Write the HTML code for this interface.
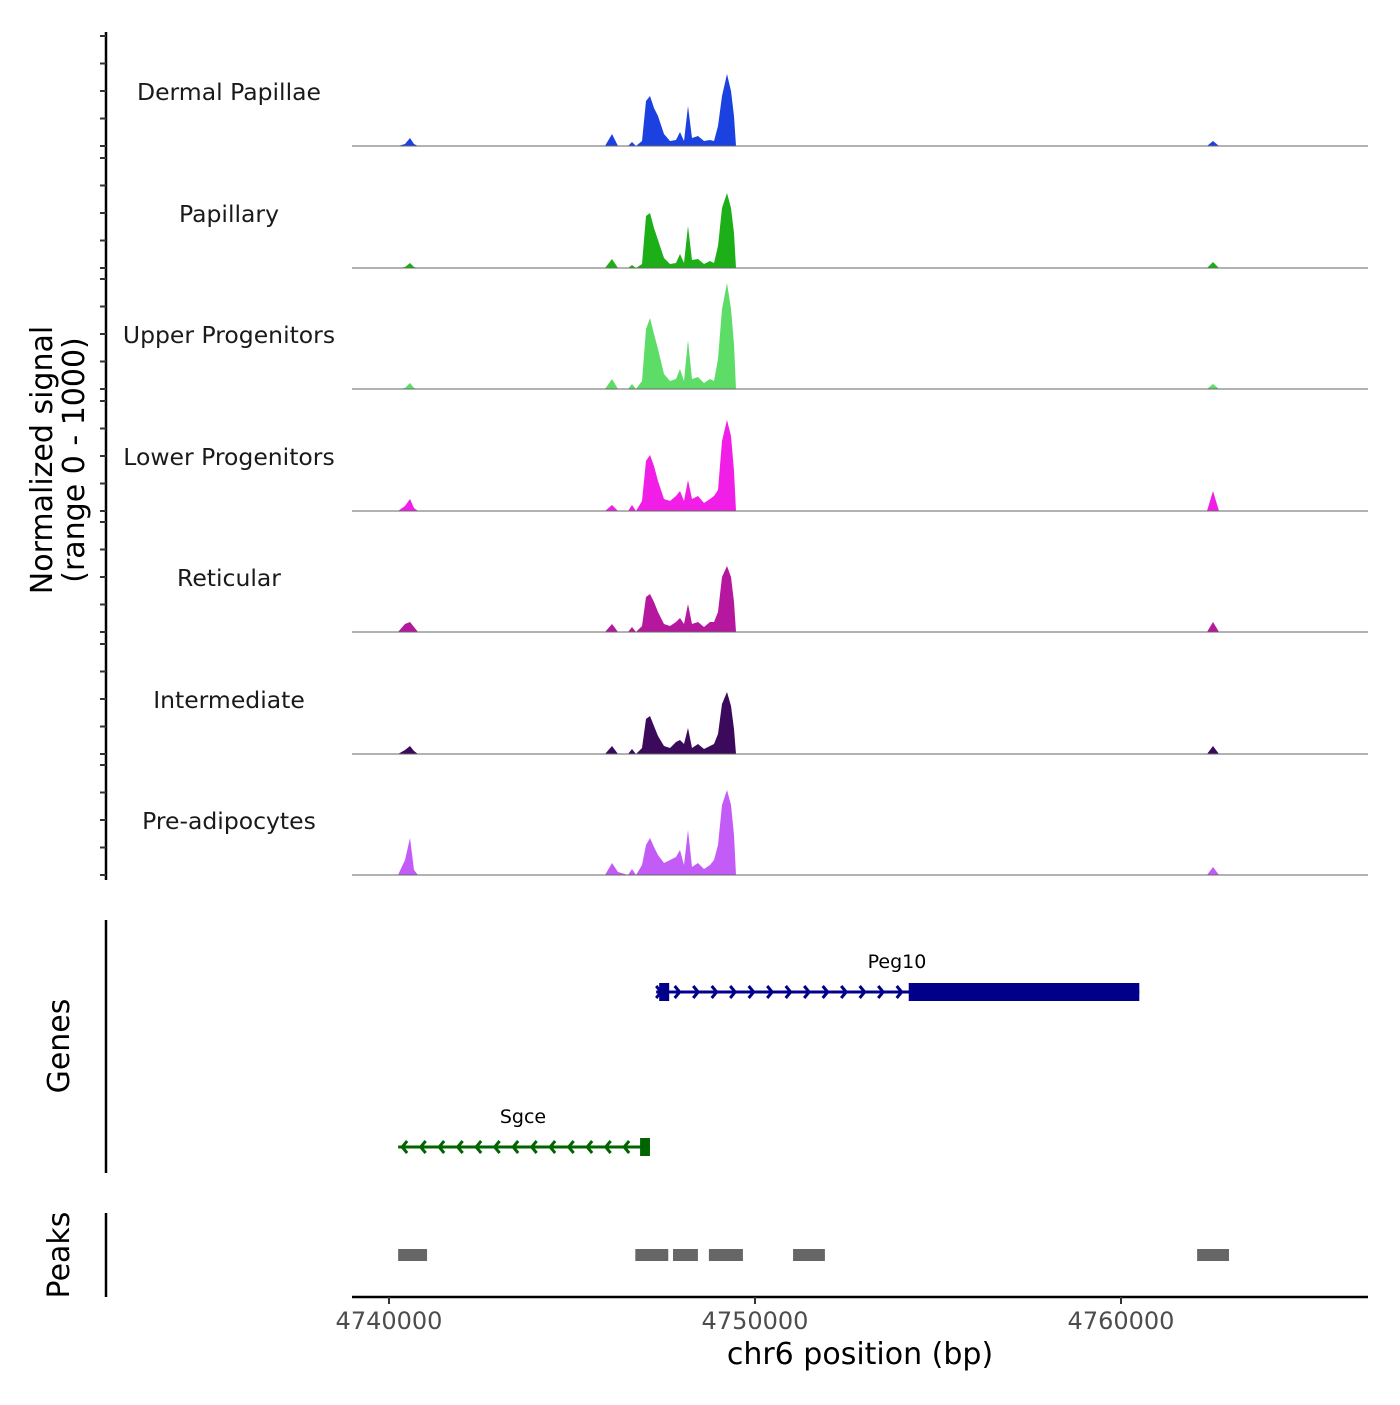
<!DOCTYPE html>
<html><head><meta charset="utf-8"><style>
body{margin:0;background:#fff}
svg{font-family:"DejaVu Sans","Liberation Sans",sans-serif}
</style></head><body>
<svg id="c" width="1400" height="1400" viewBox="0 0 1400 1400"></svg>
<script>
const trackNames=["Dermal Papillae","Papillary","Upper Progenitors","Lower Progenitors","Reticular","Intermediate","Pre-adipocytes"];
const trackColors=["#1b42e0","#1caf17","#5edc68","#f01ee6","#b5189f","#3b0a5c","#c35cf6"];
const positions=[4740246,4740437,4740574,4740683,4740792,4745902,4746093,4746257,4746530,4746639,4746749,4746913,4747022,4747131,4747240,4747350,4747514,4747678,4747842,4747951,4748060,4748169,4748279,4748443,4748607,4748770,4748880,4748989,4749098,4749235,4749344,4749426,4749481,4762350,4762514,4762678];
const sigDP=[0,2,8,2,0,0,12,0,0,4,0,5,45,50,38,30,12,5,6,14,5,40,8,10,5,6,5,20,50,72,55,30,0,0,5,0];
const sigPap=[0,1,5,1,0,0,9,0,0,3,0,4,52,55,40,28,10,4,5,14,5,42,8,9,4,7,5,22,60,75,60,35,0,0,6,0];
const sigUp=[0,1,6,1,0,0,10,0,0,5,0,8,60,71,55,40,15,8,10,20,8,49,10,12,6,10,8,30,80,106,80,45,0,0,5,0];
const sigLow=[0,5,12,3,0,0,6,0,0,6,0,10,50,56,45,30,12,10,15,20,10,31,12,15,8,12,15,21,70,91,75,40,0,0,20,0];
const sigRet=[0,8,10,5,0,0,8,0,0,5,0,6,35,38,30,20,8,6,10,14,8,28,8,10,5,10,10,20,55,66,55,30,0,0,10,0];
const sigInt=[0,4,8,3,0,0,8,0,0,5,0,6,35,38,28,18,8,6,12,14,10,26,6,10,5,8,10,20,50,62,48,25,0,0,8,0];
const sigPre=[0,15,37,5,0,0,12,3,0,6,0,10,30,37,28,20,12,15,18,25,10,45,8,12,6,10,15,30,70,85,70,40,0,0,8,0];
const signals=[sigDP,sigPap,sigUp,sigLow,sigRet,sigInt,sigPre];
const peakStarts=[4740250,4746730,4747760,4748740,4751040,4762080];
const peakEnds=[4741040,4747630,4748440,4749670,4751910,4762950];
const xTicks=[4740000,4750000,4760000];
const xTickLabels=["4740000","4750000","4760000"];
const genes=[{name:"Peg10",start:4747300,end:4760500,cdsStart:4754200,strand:1,y:992,color:"#00008b"},
 {name:"Sgce",start:4740250,end:4747130,cdsStart:4746860,strand:-1,y:1147,color:"#006400"}];

const svg=document.getElementById('c');const NS="http://www.w3.org/2000/svg";
function mk(t,a,p){const e=document.createElementNS(NS,t);for(const k in a)e.setAttribute(k,a[k]);(p||svg).appendChild(e);return e;}
const X=bp=>389+(bp-4740000)*0.0366;
const baselines=[146,268,389,511,632,754,875];
const Y=(v,b)=>b-v;
let ax=mk('line',{x1:106,y1:32,x2:106,y2:880,stroke:'#000','stroke-width':2.5});

baselines.forEach((b,i)=>{
 [0,27.5,55,82.5,110].forEach(o=>{const t=mk('line',{x1:100,x2:106,y1:b-o,y2:b-o,stroke:'#333','stroke-width':2});
 });
 const g=mk('g',{});
 let d='M352,'+b;
 positions.forEach((p,j)=>{d+=' L'+X(p).toFixed(1)+','+Y(signals[i][j],b);});
 d+=' L1368,'+b+' Z';
 const a=mk('path',{d:d,fill:trackColors[i]},g);
 const l=mk('line',{x1:352,x2:1368,y1:b,y2:b,stroke:'#666','stroke-width':1},g);
 const tx=mk('text',{x:229,y:b-46,'text-anchor':'middle','font-size':23.5,fill:'#1a1a1a'},g);tx.textContent=trackNames[i];
 
});
let yt=mk('text',{transform:'translate(52,460) rotate(-90)','text-anchor':'middle','font-size':30,fill:'#000'});
yt.innerHTML='<tspan x="0" dy="0">Normalized signal</tspan><tspan x="0" dy="32">(range 0 - 1000)</tspan>';

let ga=mk('line',{x1:106,y1:920,x2:106,y2:1173,stroke:'#000','stroke-width':2.5});
let gt=mk('text',{transform:'translate(69,1046) rotate(-90)','text-anchor':'middle','font-size':30});gt.textContent='Genes';
genes.forEach(gn=>{
 const g=mk('g',{});
 const x1=X(gn.start),x2=X(gn.end),xc=X(gn.cdsStart);
 mk('line',{x1:x1,x2:x2,y1:gn.y,y2:gn.y,stroke:gn.color,'stroke-width':3},g);
 if(gn.strand>0){mk('rect',{x:x1+3,y:gn.y-9,width:10,height:18,fill:gn.color},g);mk('rect',{x:xc,y:gn.y-9,width:x2-xc,height:18,fill:gn.color},g);}
 else{mk('rect',{x:xc,y:gn.y-9,width:x2-xc,height:18,fill:gn.color},g);}
 const s=gn.strand>0?x1:x1+2, e=xc;
 for(let x=s+(gn.strand>0?5:2); x<e-4; x+=18.5){
  const dx=gn.strand*5;
  mk('polyline',{points:(x-dx)+','+(gn.y-6)+' '+x+','+gn.y+' '+(x-dx)+','+(gn.y+6),fill:'none',stroke:gn.color,'stroke-width':3},g);
 }
 const lab=mk('text',{x:gn.strand>0?897:523,y:gn.y-24,'text-anchor':'middle','font-size':19},g);lab.textContent=gn.name;
 
});
let pa=mk('line',{x1:106,y1:1213,x2:106,y2:1297,stroke:'#000','stroke-width':2.5});
let pt=mk('text',{transform:'translate(69,1255) rotate(-90)','text-anchor':'middle','font-size':30});pt.textContent='Peaks';
peakStarts.forEach((s,i)=>{const r=mk('rect',{x:X(s),y:1249,width:X(peakEnds[i])-X(s),height:12,fill:'#666'});
 });
let xa=mk('line',{x1:352,x2:1368,y1:1297,y2:1297,stroke:'#000','stroke-width':2.5});
xTicks.forEach((t,i)=>{const l=mk('line',{x1:X(t),x2:X(t),y1:1297,y2:1304,stroke:'#333','stroke-width':2});
 const tx=mk('text',{x:X(t),y:1329,'text-anchor':'middle','font-size':24,fill:'#4d4d4d'});tx.textContent=xTickLabels[i];});
let xt=mk('text',{x:860,y:1364,'text-anchor':'middle','font-size':30});xt.textContent='chr6 position (bp)';
</script>
</body></html>
